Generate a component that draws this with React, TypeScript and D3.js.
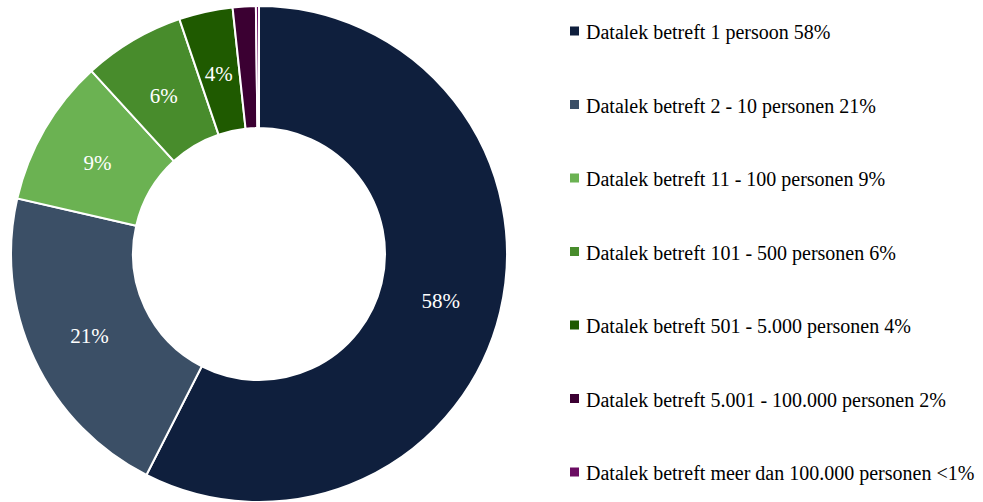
import React from "react";
import * as d3 from "d3";

const WIDTH = 983;
const HEIGHT = 502;
const CENTER = { x: 259, y: 254 };
const OUTER_R = 248;
const INNER_R = 126;

// share per category (percent)
const categories = [
    "Datalek betreft 1 persoon",
    "Datalek betreft 2 - 10 personen",
    "Datalek betreft 11 - 100 personen",
    "Datalek betreft 101 - 500 personen",
    "Datalek betreft 501 - 5.000 personen",
    "Datalek betreft 5.001 - 100.000 personen",
    "Datalek betreft meer dan 100.000 personen",
];
const values = [57.5, 21.1, 9.6, 6.6, 3.5, 1.5, 0.2];
const labels = ["58%", "21%", "9%", "6%", "4%", "2%", "<1%"];
const colors = ["#0f1f3d", "#3b4f66", "#6bb252", "#488c2c", "#1f5a00", "#3b0032", "#6b0c62"];

const FONT = "'Liberation Serif', 'DejaVu Serif', serif";

export default function App() {
    const data = categories.map((c, i) => ({ name: c, value: values[i], label: labels[i], color: colors[i] }));
    const pie = d3.pie<any>().value((d) => d.value).sort(null);
    const arcs = pie(data);
    const arc = d3.arc<any>().innerRadius(INNER_R).outerRadius(OUTER_R);

    // legend rows
    const legendY = d3.scalePoint<string>().domain(categories).range([31, 472]);

    return (
        <svg width={WIDTH} height={HEIGHT} style={{ position: "absolute", left: 0, top: 0 }}>
            <g transform={`translate(${CENTER.x},${CENTER.y})`}>
                {arcs.map((a, i) => (
                    <path key={i} d={arc(a) ?? ""} fill={a.data.color} stroke="#fff" strokeWidth={2} />
                ))}
                {arcs.map((a, i) => {
                    if (a.data.value < 3) return null;
                    const [x, y] = arc.centroid(a);
                    return (
                        <text key={"l" + i} x={x} y={y + 3} textAnchor="middle" dominantBaseline="central"
                            fill="#fff" fontFamily={FONT} fontSize={21}>
                            {a.data.label}
                        </text>
                    );
                })}
            </g>
            <g>
                {data.map((d) => {
                    const y = legendY(d.name) ?? 0;
                    return (
                        <g key={d.name} transform={`translate(570,${y})`}>
                            <rect x={0} y={-4.5} width={9} height={9} fill={d.color} />
                            <text x={16} y={1} dominantBaseline="central" fontFamily={FONT} fontSize={20} fill="#000">
                                {d.name} {d.label}
                            </text>
                        </g>
                    );
                })}
            </g>
        </svg>
    );
}
